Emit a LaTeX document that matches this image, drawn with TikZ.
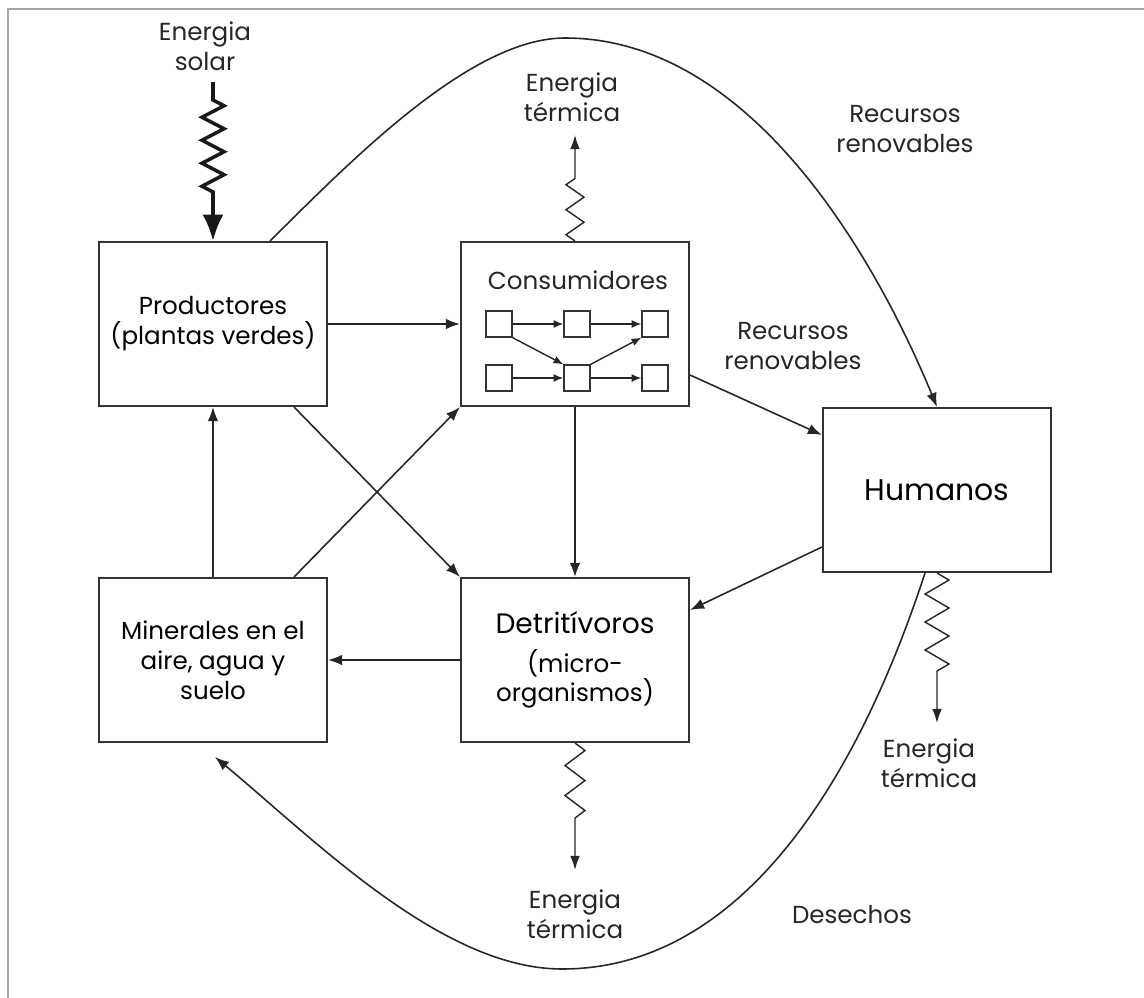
\documentclass[tikz,border=0pt]{standalone}
\usepackage{fontspec}
\setmainfont{Poppins}
\usetikzlibrary{arrows.meta,calc,decorations.pathmorphing}

\begin{document}
\begin{tikzpicture}[x=0.02cm,y=-0.02cm,
  box/.style={draw=black!80,line width=1.2pt,minimum width=4.56cm,minimum height=3.28cm,
    align=center,inner sep=0pt,font=\fontsize{14}{17}\selectfont},
  sq/.style={draw=black!80,line width=0.8pt,minimum size=0.52cm,inner sep=0pt},
  lbl/.style={align=center,inner sep=0pt,text=black!85,font=\fontsize{14}{17}\selectfont},
  flow/.style={line width=0.9pt,black!85,-{Latex[length=8pt,width=6pt]}},
  small/.style={line width=0.8pt,black!85,-{Latex[length=5.5pt,width=4.5pt]}},
  heat/.style={line width=0.8pt,black!85,decorate,
    decoration={zigzag,segment length=0.5cm,amplitude=0.18cm,pre length=0pt,post length=0.64cm},
    -{Latex[length=8pt,width=5.5pt]}},
]
  \useasboundingbox (0,0) rectangle (1144,998);
  \draw [gray!70,line width=1.2pt] (8,998) -- (8,9) -- (1144,9);

  % boxes
  \node [box] (prod) at (213,324) {Productores\\(plantas verdes)};
  \node [box] (cons) at (575,324) {};
  \node [box] (hum) at (937,490) {\fontsize{17}{20}\selectfont Humanos};
  \node [box] (detr) at (575,660) {{\fontsize{16}{19}\selectfont Detritívoros}\\[5pt](micro-\\organismos)};
  \node [box] (min) at (213,660) {Minerales en el\\aire, agua y\\suelo};

  % consumidores inside
  \node [lbl] (constit) at (578,280) {Consumidores};
  \node [sq] (c11) at (499,324) {};
  \node [sq] (c12) at (577,324) {};
  \node [sq] (c13) at (655,324) {};
  \node [sq] (c21) at (499,378) {};
  \node [sq] (c22) at (577,378) {};
  \node [sq] (c23) at (655,378) {};
  \draw [small] (c11) -- (c12);
  \draw [small] (c12) -- (c13);
  \draw [small] (c21) -- (c22);
  \draw [small] (c22) -- (c23);
  \draw [small] (c11.south east) -- (c22.north west);
  \draw [small] (c22.north east) -- (c13.south west);

  % labels
  \node [lbl] (solar) at (205,46) {Energia\\solar};
  \node [lbl] (et1) at (572,97) {Energia\\térmica};
  \node [lbl] (rr1) at (905,129) {Recursos\\renovables};
  \node [lbl] (rr2) at (793,346) {Recursos\\renovables};
  \node [lbl] (et2) at (929,763) {Energia\\térmica};
  \node [lbl] (et3) at (575,914) {Energia\\térmica};
  \node [lbl] (des) at (852,915) {Desechos};

  % flows between boxes
  \draw [flow] (prod.east) -- (cons.west);
  \draw [flow] (prod) -- (detr.north west);
  \draw [flow] (min.north) -- (prod.south);
  \draw [flow] (min) -- (cons.south west);
  \draw [flow] (cons.south) -- (detr.north);
  \draw [flow] ($(cons.east)+(0,51)$) -- ($(hum.west)+(0,-55)$);
  \draw [flow] ($(hum.west)+(0,57)$) -- ($(detr.east)+(0,-50)$);
  \draw [flow] (detr.west) -- (min.east);

  % big loops
  \coordinate (arcA) at ($(prod.north)+(57,0)$);
  \coordinate (arcTop) at (565,38);
  \draw [flow] (arcA) .. controls (350,162) and (470,38) .. (arcTop)
    .. controls (765,38) and (890,293) .. (hum.north);
  \coordinate (arcB) at ($(hum.south)+(-12,0)$);
  \coordinate (arcLow) at (562,969);
  \coordinate (wasteTip) at (215,757);
  \draw [flow] (arcB) .. controls (854,790) and (737,969) .. (arcLow)
    .. controls (442,969) and (315,840) .. (wasteTip);

  % energy
  \coordinate (sun) at (213,82);
  \draw [line width=2pt,black!90,decorate,
    decoration={zigzag,segment length=0.46cm,amplitude=0.22cm,pre length=0.36cm,post length=0.96cm},
    -{Latex[length=15pt,width=12pt]}] (sun) -- (prod.north);
  \coordinate (et1tip) at (575,135);
  \draw [heat] (cons.north) -- (et1tip);
  \coordinate (et2tip) at (937,723);
  \draw [heat,decoration={segment length=0.56cm,amplitude=0.24cm,post length=0.76cm}] (hum.south) -- (et2tip);
  \coordinate (et3tip) at (575,870);
  \draw [heat,decoration={segment length=0.6cm,amplitude=0.2cm,post length=0.74cm}] (detr.south) -- (et3tip);
\end{tikzpicture}
\end{document}
